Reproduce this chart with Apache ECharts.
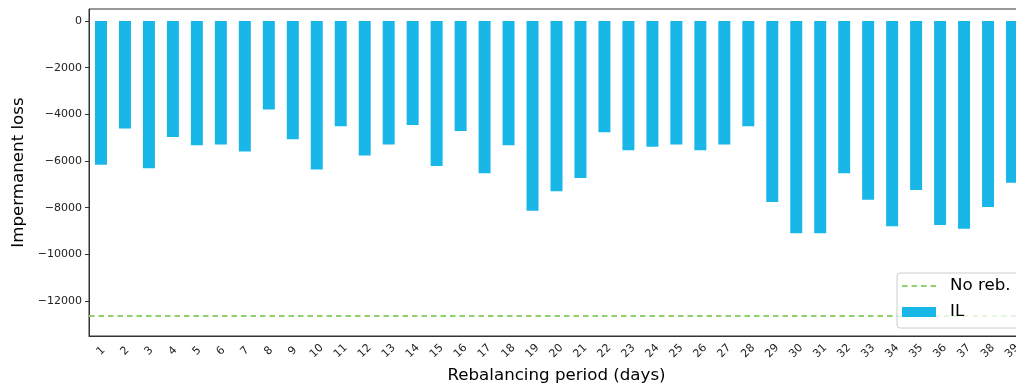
<!DOCTYPE html>
<html>
<head>
<meta charset="utf-8">
<script src="https://cdn.jsdelivr.net/npm/echarts@6/dist/echarts.min.js"></script>
<style>
html,body{margin:0;padding:0;background:#fff;}
#chart{width:1016px;height:384px;}
</style>
</head>
<body>
<div id="chart"></div>
<script>
// Data
const categories = ['1','2','3','4','5','6','7','8','9','10','11','12','13','14','15','16','17','18','19','20','21','22','23','24','25','26','27','28','29','30','31','32','33','34','35','36','37','38','39'];
const ilValues = [-6160,-4610,-6310,-4970,-5330,-5290,-5590,-3790,-5070,-6360,-4510,-5760,-5290,-4460,-6210,-4710,-6530,-5330,-8130,-7300,-6730,-4770,-5540,-5390,-5290,-5540,-5290,-4510,-7760,-9100,-9100,-6530,-7660,-8800,-7240,-8740,-8900,-7970,-6930];
const noRebalance = -12650;
const yTicks = [-12000,-10000,-8000,-6000,-4000,-2000,0];
const seriesNames = ['No reb.', 'IL'];
const axisNames = {x: 'Rebalancing period (days)', y: 'Impermanent loss'};

const FONT = 'DejaVu Sans';
const GREEN = '#8fd16b';
const BLUE = '#19b6e8';
// dashed-line legend icon in a 34x10 box (tiny corner points keep the box size)
const dashIcon = 'path://M0,0L0.01,0L0.01,0.01Z M34,10L33.99,10L33.99,9.99Z M0,4h5.5v2h-5.5Z M9.5,4h5.5v2h-5.5Z M19,4h5.5v2h-5.5Z M28.5,4h5.5v2h-5.5Z';

const chart = echarts.init(document.getElementById('chart'), null, {renderer: 'canvas'});
chart.setOption({
  animation: false,
  backgroundColor: '#ffffff',
  textStyle: {fontFamily: FONT},
  grid: {left: 89, top: 9, bottom: 48, right: -8, outerBoundsMode: 'none', containLabel: false,
    show: true, borderColor: '#333', borderWidth: 1, backgroundColor: 'transparent'},
  legend: {
    data: [{name: seriesNames[0], icon: dashIcon, itemStyle: {color: GREEN}}, {name: seriesNames[1], icon: 'rect'}],
    orient: 'vertical',
    left: 897, top: 273,
    padding: [3, 60, 6, 5],
    itemGap: 6,
    itemWidth: 34, itemHeight: 10,
    z: 20,
    backgroundColor: 'rgba(255,255,255,0.8)',
    borderColor: '#cccccc', borderWidth: 1, borderRadius: 3,
    textStyle: {fontFamily: FONT, fontSize: 16.67, color: '#000', lineHeight: 20, padding: [0, 0, 0, 9]}
  },
  xAxis: {
    type: 'category',
    data: categories,
    name: axisNames.x,
    nameLocation: 'middle',
    nameGap: 30,
    nameTextStyle: {fontFamily: FONT, fontSize: 16.67, color: '#000'},
    axisLine: {onZero: false, lineStyle: {color: '#333', width: 1}},
    axisTick: {alignWithLabel: true, length: 4, lineStyle: {color: '#333'}},
    axisLabel: {rotate: 45, interval: 0, fontFamily: FONT, fontSize: 11, color: '#222', margin: 15, align: 'center', verticalAlign: 'middle'},
    splitLine: {show: false}
  },
  yAxis: {
    type: 'value',
    min: -13500, max: 514,
    name: axisNames.y,
    nameLocation: 'middle',
    nameGap: 62,
    nameTextStyle: {fontFamily: FONT, fontSize: 16.67, color: '#000'},
    axisLine: {show: true, lineStyle: {color: '#333', width: 1}},
    axisTick: {show: true, length: 4, lineStyle: {color: '#333'}, customValues: yTicks},
    axisLabel: {fontFamily: FONT, fontSize: 11, color: '#222', margin: 7, customValues: yTicks,
      formatter: v => String(v).replace('-', '\u2212')},
    splitLine: {show: false}
  },
  series: [
    {
      name: seriesNames[0],
      type: 'line',
      data: [],
      symbol: 'none',
      color: GREEN,
      lineStyle: {color: GREEN, width: 2, type: [5.5, 4]},
      itemStyle: {color: GREEN},
      z: 1,
      markLine: {
        silent: true,
        symbol: ['none', 'none'],
        label: {show: false},
        lineStyle: {color: GREEN, width: 2, type: [5.5, 4]},
        data: [{yAxis: noRebalance}]
      }
    },
    {
      name: seriesNames[1],
      type: 'bar',
      data: ilValues,
      barWidth: '50%',
      itemStyle: {color: BLUE},
      z: 2
    }
  ]
});
</script>
</body>
</html>
